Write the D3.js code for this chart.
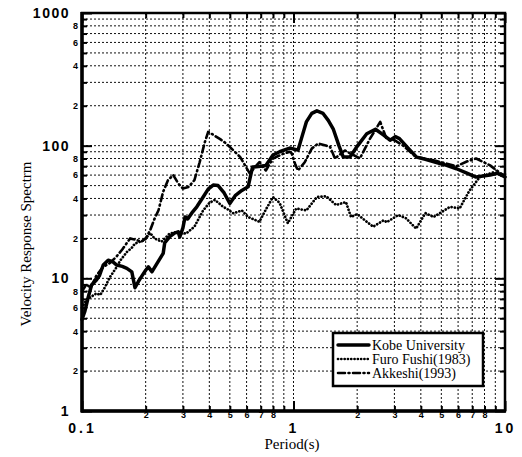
<!DOCTYPE html>
<html><head><meta charset="utf-8">
<script src="https://cdn.jsdelivr.net/npm/d3@7"></script>
<style>
body{margin:0;background:#fff;}
svg{display:block;}
</style></head>
<body><svg id="c" width="522" height="457"></svg>
<script>
// ---- data ----
const seriesNames = ["Kobe University", "Furo Fushi(1983)", "Akkeshi(1993)"];
const xMajorTicks = [0.1, 1, 10];
const xMajorLabels = ["0.1", "1", "10"];
const yMajorTicks = [1, 10, 100, 1000];
const yMajorLabels = ["1", "10", "100", "1000"];
const minorDigits = [2, 3, 4, 5, 6, 7, 8, 9];

const kobePeriods = [0.100,0.103,0.107,0.111,0.117,0.121,0.126,0.133,0.140,0.146,0.155,0.163,0.172,0.178,0.185,0.191,0.200,0.206,0.214,0.226,0.242,0.246,0.260,0.275,0.285,0.290,0.300,0.307,0.316,0.330,0.349,0.374,0.395,0.417,0.440,0.470,0.500,0.530,0.570,0.610,0.640,0.700,0.740,0.800,0.860,0.960,1.050,1.090,1.150,1.220,1.290,1.380,1.460,1.540,1.640,1.720,1.850,2.020,2.220,2.440,2.670,2.860,3.030,3.170,3.500,3.820,4.200,4.700,5.300,5.900,6.600,7.300,8.500,9.200,10.00];
const kobeValues = [4.9,5.6,7.2,8.9,9.7,10.5,12.6,13.7,13.3,12.6,12.3,11.9,11.2,8.5,9.5,10.3,11.5,12.2,11.2,12.9,15.4,18.5,20.6,22.0,22.4,20.5,24.0,29.0,28.0,31.0,34.6,41.0,47.0,50.5,50.0,44.0,36.7,42.0,46.0,49.0,69.0,70.0,71.0,85.0,90.0,96.0,92.5,113,151,175,183,175,155,134,100,82,82,101,123,133,120,110,117,113,95,82,79,75,71,67,62,58,60,62,58];

const furoPeriods = [0.100,0.105,0.111,0.117,0.122,0.128,0.136,0.145,0.152,0.163,0.172,0.178,0.190,0.198,0.210,0.220,0.238,0.260,0.285,0.310,0.340,0.374,0.400,0.425,0.465,0.490,0.520,0.570,0.610,0.690,0.740,0.800,0.860,0.940,1.030,1.150,1.290,1.430,1.590,1.770,1.870,2.000,2.200,2.380,2.670,2.760,3.130,3.400,3.800,4.200,4.600,5.500,6.100,6.800,7.600,8.800,10.00];
const furoValues = [6.0,6.9,7.3,7.7,7.5,8.5,10.3,12.0,13.7,15.8,17.0,18.3,19.0,19.5,22.0,20.0,18.9,21.8,22.4,21.7,24.5,32.5,37.0,39.0,34.6,33.0,30.9,32.5,29.0,26.7,33.0,41.0,37.0,26.0,33.6,32.5,41.0,41.5,35.7,37.6,29.0,30.5,27.0,24.5,27.4,26.5,30.0,28.4,23.7,31.0,29.0,34.6,33.6,46.0,58.0,63.0,60.0];

const akkPeriods = [0.100,0.105,0.110,0.117,0.126,0.135,0.145,0.155,0.163,0.169,0.180,0.191,0.200,0.210,0.220,0.230,0.242,0.255,0.270,0.285,0.300,0.320,0.340,0.360,0.380,0.395,0.420,0.450,0.480,0.520,0.560,0.620,0.690,0.740,0.800,0.880,0.960,0.980,1.020,1.050,1.130,1.220,1.310,1.490,1.570,1.750,2.060,2.300,2.570,2.750,3.000,3.300,3.800,4.700,5.900,6.600,7.300,8.500,9.800,10.00];
const akkValues = [8.0,9.0,8.5,10.5,12.2,13.0,14.5,16.5,18.5,20.0,19.5,18.9,20.0,23.0,28.0,32.6,45.0,55.0,60.0,52.0,47.5,49.0,55.0,75.0,105,127,120,112,104,92,82,62,75,65,80,86,90,87.6,72,65,75,95,104,98,80,92,80,113,151,113,110,100,82,77,70,76,80,71,60,61];

// ---- layout ----
const svg = d3.select("#c");
const L = 82, R = 505, T = 13, B = 411;
const x = d3.scaleLog().domain([0.1, 10]).range([L, R]);
const y = d3.scaleLog().domain([1, 1000]).range([B, T]);

const xMinor = [0.1, 1].flatMap(d => minorDigits.map(k => +(k * d).toFixed(3)));
const yMinor = [1, 10, 100].flatMap(d => minorDigits.map(k => k * d));

// grid
const grid = svg.append("g").attr("stroke", "#111").attr("stroke-width", 1).attr("stroke-dasharray", "2,2");
grid.selectAll("line.v").data(xMinor.concat([1])).join("line")
  .attr("x1", d => x(d)).attr("x2", d => x(d)).attr("y1", T).attr("y2", B);
grid.selectAll("line.h").data(yMinor.concat([10, 100])).join("line")
  .attr("y1", d => y(d)).attr("y2", d => y(d)).attr("x1", L).attr("x2", R);

// axes
function styleAxis(g) { g.select(".domain").remove(); g.selectAll("line").attr("stroke", "#000").attr("stroke-width", 2); }
const digitOf = d => Math.round(d / Math.pow(10, Math.floor(Math.log10(d) + 1e-9)));

svg.append("g").attr("transform", `translate(${L},0)`)
  .call(d3.axisLeft(y).tickValues(yMajorTicks).tickSize(-10).tickPadding(12)
    .tickFormat((d, i) => yMajorLabels[i]))
  .call(styleAxis)
  .call(g => g.selectAll("text").attr("font-family", "Liberation Sans, Arial, sans-serif")
    .attr("font-weight", "bold").attr("font-size", 14).attr("letter-spacing", "1.5px").attr("fill", "#000"));

svg.append("g").attr("transform", `translate(${L},0)`)
  .call(d3.axisLeft(y).tickValues(yMinor).tickSize(-5).tickPadding(4)
    .tickFormat(d => { const k = digitOf(d); return k % 2 === 0 && k < 9 ? String(k) : ""; }))
  .call(styleAxis)
  .call(g => g.selectAll("text").attr("font-family", "Liberation Sans, Arial, sans-serif")
    .attr("font-weight", "bold").attr("font-size", 9).attr("fill", "#000"));

svg.append("g").attr("transform", `translate(${R},0)`)
  .call(d3.axisRight(y).tickValues(yMajorTicks).tickSize(-10).tickFormat(""))
  .call(styleAxis);
svg.append("g").attr("transform", `translate(${R},0)`)
  .call(d3.axisRight(y).tickValues(yMinor).tickSize(-5).tickFormat(""))
  .call(styleAxis);

svg.append("g").attr("transform", `translate(0,${B})`)
  .call(d3.axisBottom(x).tickValues(xMajorTicks).tickSize(-10).tickPadding(12)
    .tickFormat((d, i) => xMajorLabels[i]))
  .call(styleAxis)
  .call(g => g.selectAll("text").attr("font-family", "Liberation Sans, Arial, sans-serif")
    .attr("font-weight", "bold").attr("font-size", 14).attr("letter-spacing", "3px").attr("fill", "#000"));

svg.append("g").attr("transform", `translate(0,${B})`)
  .call(d3.axisBottom(x).tickValues(xMinor).tickSize(-5).tickPadding(1)
    .tickFormat(d => { const k = digitOf(d); return k < 9 ? String(k) : ""; }))
  .call(styleAxis)
  .call(g => g.selectAll("text").attr("font-family", "Liberation Sans, Arial, sans-serif")
    .attr("font-weight", "bold").attr("font-size", 9).attr("fill", "#000"));

svg.append("g").attr("transform", `translate(0,${T})`)
  .call(d3.axisTop(x).tickValues(xMajorTicks).tickSize(-10).tickFormat(""))
  .call(styleAxis);
svg.append("g").attr("transform", `translate(0,${T})`)
  .call(d3.axisTop(x).tickValues(xMinor).tickSize(-5).tickFormat(""))
  .call(styleAxis);

// curves
const series = [
  { name: seriesNames[0], p: kobePeriods, v: kobeValues, w: 3.5, dash: null, cap: "round" },
  { name: seriesNames[1], p: furoPeriods, v: furoValues, w: 2.7, dash: "0.1,3.2", cap: "round" },
  { name: seriesNames[2], p: akkPeriods, v: akkValues, w: 2.6, dash: "7,3.5,1,3.5", cap: "round" }
];
const line = d3.line().x(d => x(d[0])).y(d => y(d[1]));
svg.append("g").selectAll("path").data(series).join("path")
  .attr("d", s => line(s.p.map((p, i) => [p, s.v[i]])))
  .attr("fill", "none").attr("stroke", "#000")
  .attr("stroke-width", s => s.w).attr("stroke-dasharray", s => s.dash)
  .attr("stroke-linecap", s => s.cap).attr("stroke-linejoin", "round");

// frame
svg.append("rect").attr("x", L).attr("y", T).attr("width", R - L).attr("height", B - T)
  .attr("fill", "none").attr("stroke", "#000").attr("stroke-width", 2.5);
svg.append("line").attr("x1", L).attr("x2", L).attr("y1", T - 1).attr("y2", B + 1.5).attr("stroke", "#000").attr("stroke-width", 3.5);
svg.append("line").attr("x1", L - 1).attr("x2", R + 1).attr("y1", B).attr("y2", B).attr("stroke", "#000").attr("stroke-width", 3.5);

// legend
const lg = svg.append("g");
lg.append("rect").attr("x", 333).attr("y", 333).attr("width", 150).attr("height", 53)
  .attr("fill", "#fff").attr("stroke", "#000").attr("stroke-width", 2.5);
const ly = [345, 359, 373];
series.forEach((s, i) => {
  lg.append("line").attr("x1", 338).attr("x2", 369).attr("y1", ly[i]).attr("y2", ly[i])
    .attr("stroke", "#000").attr("stroke-width", s.w).attr("stroke-dasharray", s.dash).attr("stroke-linecap", s.cap);
  lg.append("text").attr("x", 372).attr("y", ly[i] + 4.5).text(s.name)
    .attr("font-family", "Liberation Serif, Times New Roman, serif").attr("font-size", 14).attr("fill", "#000");
});

// axis titles
svg.append("text").attr("x", 292).attr("y", 449).attr("text-anchor", "middle").text("Period(s)")
  .attr("font-family", "Liberation Serif, Times New Roman, serif").attr("font-size", 15).attr("fill", "#000");
svg.append("text").attr("transform", "translate(31,244) rotate(-90)").attr("text-anchor", "middle")
  .text("Velocity Response Spectrm")
  .attr("font-family", "Liberation Serif, Times New Roman, serif").attr("font-size", 15).attr("fill", "#000");
</script></body></html>
